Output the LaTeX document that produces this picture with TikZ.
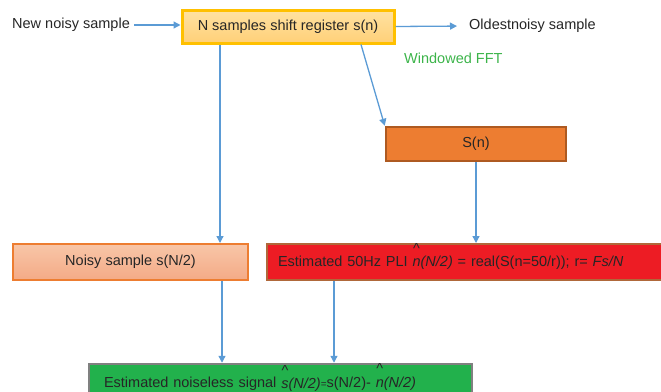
\documentclass[tikz,border=0pt]{standalone}
\usepackage{amsmath}
\usepackage{fontspec}
\setmainfont{Liberation Sans}
\usetikzlibrary{arrows.meta,calc}
\usepackage{xcolor}
\definecolor{txtgray}{HTML}{262626}
\definecolor{arrblue}{HTML}{5B9BD5}
\definecolor{regtop}{HTML}{FFE2A2}
\definecolor{regbot}{HTML}{FFD078}
\definecolor{regline}{HTML}{FFC000}
\definecolor{fftfill}{HTML}{ED7D31}
\definecolor{fftline}{HTML}{AE5A21}
\definecolor{noisytop}{HTML}{F8C6A8}
\definecolor{noisybot}{HTML}{F4AA86}
\definecolor{noisyline}{HTML}{ED7D31}
\definecolor{plifill}{HTML}{ED1C24}
\definecolor{pliline}{HTML}{B0683A}
\definecolor{estfill}{HTML}{22B14C}
\definecolor{estline}{HTML}{808080}
\definecolor{fftgreen}{HTML}{3CB44A}
\newcommand{\hatsym}[1]{\ensuremath{\overset{\raisebox{2.5pt}{\text{\normalfont\textasciicircum}}}{\text{\itshape #1}}}}
\tikzset{
  box/.style={draw, inner sep=0pt, text=txtgray},
  arr/.style={draw=arrblue, line width=1.3pt, -{Triangle[length=7pt,width=7pt]}},
  every node/.style={font=\fontsize{14.5}{17}\selectfont, text=txtgray}
}

\begin{document}
\begin{tikzpicture}[x=1pt,y=-1pt]
\useasboundingbox (0,0) rectangle (661,391);
\clip (0,0) rectangle (661,391);

\node [box, line width=3pt, draw=regline, top color=regtop, bottom color=regbot,
  minimum width=212pt, minimum height=33pt] (reg) at (288,26.5) {N samples shift register s(n)};
\node [anchor=west, inner sep=0pt] (newin) at (12,25) {New noisy sample};
\node [anchor=west, inner sep=0pt] (old) at (469,26) {Oldestnoisy sample};
\node [anchor=west, inner sep=0pt, text=fftgreen] (wfft) at (404,58) {Windowed FFT};

\node [box, line width=2.5pt, draw=fftline, fill=fftfill,
  minimum width=180pt, minimum height=34pt] (sn) at (476,144) {S(n)};

\node [box, line width=2pt, draw=noisyline, top color=noisytop, bottom color=noisybot,
  minimum width=235pt, minimum height=36pt] (noisy) at (130.5,262) {Noisy sample s(N/2)};
\node [box, line width=2pt, draw=pliline, fill=plifill, minimum height=36pt,
  text height=12pt, text depth=2.6pt,
  text width=379pt, align=left, inner xsep=11pt] (pli) at (467.5,262)
  {Estimated 50Hz PLI \hatsym{n}\textit{(N/2)} = real(S(n=50/r)); r= \textit{Fs/N}};

\node [box, line width=2.5pt, draw=estline, fill=estfill, minimum height=34pt,
  text height=13pt, text depth=1pt,
  text width=353pt, align=left, inner xsep=15pt] (est) at (280.5,381)
  {Estimated noiseless signal \raisebox{-1.5pt}{\hatsym{s}\textit{(N/2)}}{\fontsize{10}{12}\selectfont=}s(N/2)- \hatsym{n}\textit{(N/2)}};

\draw [arr, shorten <=4pt] (newin.east) -- (newin.east -| reg.west);
\draw [arr, shorten >=12pt] (reg.east) -- (old.west);
\draw [arr] ([xshift=-68pt]reg.south) -- ([xshift=-68pt]reg.south |- noisy.north);
\draw [arr] ([xshift=73pt]reg.south) -- (sn.north west);
\draw [arr] (sn.south) -- (sn.south |- pli.north);
\draw [arr] ([xshift=91.5pt]noisy.south) -- ([xshift=91.5pt]noisy.south |- est.north);
\draw [arr] ([xshift=-133.5pt]pli.south) -- ([xshift=-133.5pt]pli.south |- est.north);
\end{tikzpicture}
\end{document}
